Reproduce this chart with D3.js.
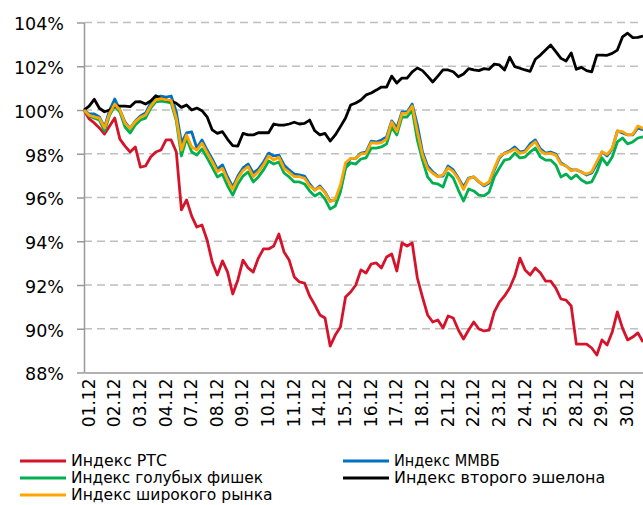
<!DOCTYPE html>
<html>
<head>
<meta charset="utf-8">
<script src="https://cdn.jsdelivr.net/npm/d3@7"></script>
<style>
  body { margin: 0; background: #fff; }
  svg text { font-family: "DejaVu Sans", Verdana, sans-serif; fill: #000; }
</style>
</head>
<body>
<svg id="chart" width="643" height="505"></svg>
<script>
// trading days shown on the x axis, 5 readings per day
const days = ["01.12", "02.12", "03.12", "04.12", "07.12", "08.12", "09.12", "10.12", "11.12", "14.12", "15.12",
    "16.12", "17.12", "18.12", "21.12", "22.12", "23.12", "24.12", "25.12", "28.12", "29.12", "30.12"]
const pointsPerDay = 5
const yTicks = [88, 90, 92, 94, 96, 98, 100, 102, 104]

const rts = [100.00, 99.59, 99.41, 99.18, 98.90, 99.27, 99.63, 98.67, 98.35, 98.08,
    98.31, 97.39, 97.44, 97.85, 98.08, 98.17, 98.63, 98.63, 98.08, 95.43,
    95.89, 95.15, 94.65, 94.74, 94.06, 93.05, 92.46, 93.10, 92.59, 91.59,
    92.23, 93.14, 92.78, 92.59, 93.23, 93.65, 93.65, 93.78, 94.33, 93.51,
    93.14, 92.37, 92.14, 92.09, 91.50, 91.09, 90.63, 90.49, 89.21, 89.71,
    90.08, 91.45, 91.68, 92.00, 92.69, 92.55, 92.96, 93.01, 92.78, 93.28,
    93.42, 92.64, 93.92, 93.78, 93.92, 92.32, 91.45, 90.63, 90.31, 90.40,
    90.03, 90.58, 90.49, 89.94, 89.53, 89.94, 90.31, 89.99, 89.90, 89.94,
    90.77, 91.22, 91.50, 91.86, 92.41, 93.23, 92.69, 92.46, 92.78, 92.55,
    92.18, 92.18, 91.86, 91.36, 91.31, 91.04, 89.30, 89.30, 89.30, 89.12,
    88.80, 89.49, 89.26, 89.85, 90.77, 90.03, 89.49, 89.62, 89.81, 89.39]

const micex = [100.00, 99.82, 99.82, 99.68, 99.22, 100.00, 100.50, 100.00, 99.45, 99.16,
    99.50, 99.73, 99.86, 100.32, 100.59, 100.64, 100.59, 100.64, 99.91, 98.49,
    98.95, 99.00, 98.26, 98.63, 98.17, 97.76, 97.30, 97.49, 96.94, 96.48,
    96.98, 97.35, 97.53, 97.12, 97.30, 97.62, 98.03, 97.90, 97.94, 97.49,
    97.26, 97.07, 97.03, 96.98, 96.62, 96.34, 96.53, 96.25, 95.84, 95.89,
    96.34, 97.39, 97.79, 97.79, 98.03, 98.08, 98.58, 98.54, 98.63, 98.77,
    99.50, 99.18, 99.91, 99.91, 100.27, 99.31, 98.08, 97.44, 97.17, 96.98,
    96.98, 97.44, 97.26, 96.89, 96.48, 96.89, 96.94, 96.71, 96.53, 96.66,
    97.26, 97.81, 98.03, 98.13, 98.31, 98.08, 98.13, 98.45, 98.63, 98.22,
    98.03, 98.08, 97.99, 97.58, 97.44, 97.26, 97.26, 97.17, 97.03, 97.12,
    97.53, 98.08, 97.90, 98.22, 99.04, 98.95, 98.86, 98.86, 99.18, 99.09]

const blueChips = [100.00, 99.73, 99.63, 99.54, 99.04, 99.77, 100.18, 99.91, 99.22, 98.95,
    99.31, 99.54, 99.63, 100.09, 100.37, 100.41, 100.37, 100.32, 99.50, 97.90,
    98.72, 98.08, 97.94, 98.22, 97.81, 97.39, 96.94, 97.07, 96.53, 96.11,
    96.62, 96.98, 97.17, 96.71, 96.94, 97.26, 97.67, 97.53, 97.62, 97.12,
    96.94, 96.71, 96.71, 96.62, 96.30, 96.07, 96.21, 95.93, 95.47, 95.61,
    96.25, 97.35, 97.58, 97.53, 97.76, 97.81, 98.26, 98.26, 98.31, 98.45,
    99.22, 98.86, 99.68, 99.68, 100.00, 98.63, 97.71, 96.94, 96.66, 96.62,
    96.48, 97.12, 96.89, 96.34, 95.84, 96.39, 96.30, 96.11, 96.07, 96.25,
    96.94, 97.35, 97.71, 97.76, 98.03, 97.81, 97.85, 98.08, 98.26, 97.85,
    97.71, 97.71, 97.49, 96.94, 97.07, 96.85, 97.03, 96.80, 96.66, 96.71,
    97.17, 97.81, 97.49, 97.85, 98.54, 98.72, 98.45, 98.54, 98.72, 98.77]

const secondTier = [100.00, 100.18, 100.49, 100.08, 99.92, 100.00, 100.18, 100.18, 100.18, 100.15,
    100.37, 100.38, 100.27, 100.41, 100.65, 100.53, 100.46, 100.41, 100.31, 100.12,
    100.23, 100.00, 100.09, 99.97, 99.69, 99.09, 98.93, 99.01, 98.66, 98.37,
    98.35, 98.93, 98.86, 98.86, 98.96, 98.96, 98.96, 99.36, 99.31, 99.31,
    99.36, 99.44, 99.36, 99.39, 99.54, 99.05, 98.86, 98.93, 98.58, 98.86,
    99.24, 99.63, 100.23, 100.32, 100.46, 100.69, 100.78, 100.91, 101.05, 101.05,
    101.55, 101.23, 101.46, 101.46, 101.74, 101.92, 101.80, 101.55, 101.28, 101.55,
    101.83, 101.83, 101.75, 101.52, 101.65, 101.89, 101.83, 101.80, 101.89, 101.86,
    102.10, 102.06, 101.83, 102.41, 101.98, 101.91, 101.83, 101.77, 102.32, 102.51,
    102.74, 102.97, 102.67, 102.36, 102.24, 102.61, 101.86, 101.95, 101.80, 101.74,
    102.51, 102.51, 102.50, 102.59, 102.74, 103.34, 103.51, 103.31, 103.32, 103.38]

const broadMarket = [100.00, 99.76, 99.69, 99.63, 99.18, 99.85, 100.27, 100.00, 99.39, 99.16,
    99.47, 99.67, 99.77, 100.18, 100.46, 100.52, 100.46, 100.43, 99.62, 98.17,
    98.86, 98.31, 98.17, 98.48, 98.05, 97.64, 97.18, 97.33, 96.80, 96.37,
    96.88, 97.23, 97.41, 96.95, 97.18, 97.49, 97.90, 97.71, 97.84, 97.33,
    97.15, 96.95, 96.95, 96.88, 96.53, 96.34, 96.47, 96.22, 95.81, 95.92,
    96.57, 97.59, 97.79, 97.79, 97.99, 98.02, 98.51, 98.48, 98.51, 98.67,
    99.45, 99.01, 99.85, 99.85, 100.18, 99.01, 97.94, 97.33, 97.11, 96.95,
    97.03, 97.36, 97.18, 96.85, 96.37, 96.85, 96.95, 96.72, 96.57, 96.72,
    97.33, 97.87, 98.02, 98.09, 98.22, 98.02, 98.07, 98.35, 98.55, 98.13,
    97.99, 98.02, 97.94, 97.52, 97.45, 97.21, 97.29, 97.15, 97.07, 97.18,
    97.64, 98.09, 97.97, 98.25, 99.04, 99.01, 98.86, 98.89, 99.27, 99.16]

// drawing order (orange on top), legend keeps row order of the picture
const seriesList = [
    { name: "Индекс РТС", values: rts, color: "#d5142b", col: 0, row: 0 },
    { name: "Индекс ММВБ", values: micex, color: "#0070c0", col: 1, row: 0 },
    { name: "Индекс голубых фишек", values: blueChips, color: "#00b050", col: 0, row: 1 },
    { name: "Индекс второго эшелона", values: secondTier, color: "#000000", col: 1, row: 1 },
    { name: "Индекс широкого рынка", values: broadMarket, color: "#ffa500", col: 0, row: 2 }
]

const PLOT = { left: 84, right: 643, top: 22.5, bottom: 372.5 }
const N = rts.length

const x = d3.scaleLinear().domain([0, N - 1]).range([PLOT.left, PLOT.right])
const y = d3.scaleLinear().domain([88, 104]).range([PLOT.bottom, PLOT.top])

const svg = d3.select("#chart")

// dashed horizontal gridlines
svg.append("g")
    .selectAll("line")
    .data(yTicks.filter(d => d > 88))
    .enter()
    .append("line")
    .attr("x1", PLOT.left)
    .attr("x2", PLOT.right)
    .attr("y1", d => y(d))
    .attr("y2", d => y(d))
    .attr("stroke", "#bfbfbf")
    .attr("stroke-width", 1.5)
    .attr("stroke-dasharray", "8,5")

// y axis
const yAxis = svg.append("g")
    .attr("transform", `translate(${PLOT.left}, 0)`)
    .call(d3.axisLeft(y).tickValues(yTicks).tickFormat(d => d + "%").tickSize(7).tickSizeOuter(0).tickPadding(13))
yAxis.select(".domain").attr("stroke", "#999").attr("stroke-width", 1.5)
yAxis.selectAll(".tick line").attr("stroke", "#999").attr("stroke-width", 1.5)
yAxis.selectAll(".tick text")
    .attr("font-size", 17.5)
    .attr("font-family", null)
    .attr("dy", "0.42em")

// x axis: one label per trading day
const xAxis = svg.append("g")
    .attr("transform", `translate(0, ${PLOT.bottom})`)
    .call(d3.axisBottom(x)
        .tickValues(days.map((d, i) => i * pointsPerDay))
        .tickFormat(v => days[v / pointsPerDay])
        .tickSize(0)
        .tickSizeOuter(0))
xAxis.select(".domain").attr("stroke", "#999").attr("stroke-width", 1.5)
xAxis.selectAll(".tick text")
    .attr("font-size", 17)
    .attr("font-family", null)
    .attr("transform", "rotate(-90)")
    .attr("x", -6)
    .attr("y", 4)
    .attr("dy", "0.36em")
    .style("text-anchor", "end")

// series lines
const line = d3.line()
    .x((d, i) => x(i))
    .y(d => y(d))

svg.append("g")
    .selectAll("path")
    .data(seriesList)
    .enter()
    .append("path")
    .attr("d", d => line(d.values))
    .attr("fill", "none")
    .attr("stroke", d => d.color)
    .attr("stroke-width", 2.8)
    .attr("stroke-linejoin", "round")

// legend, two columns
const LEGEND = { cols: [20, 343], rowY: [461, 478, 495], lineLen: 46, gap: 5 }

const legend = svg.append("g")
    .selectAll("g")
    .data(seriesList)
    .enter()
    .append("g")
    .attr("transform", d => `translate(${LEGEND.cols[d.col]}, ${LEGEND.rowY[d.row]})`)

legend.append("line")
    .attr("x1", 0)
    .attr("x2", LEGEND.lineLen)
    .attr("stroke", d => d.color)
    .attr("stroke-width", 3)

legend.append("text")
    .attr("x", LEGEND.lineLen + LEGEND.gap)
    .attr("dy", "0.36em")
    .attr("font-size", 15)
    .attr("textLength", d => d.name.length * 9.6)
    .attr("lengthAdjust", "spacingAndGlyphs")
    .text(d => d.name)
</script>
</body>
</html>
